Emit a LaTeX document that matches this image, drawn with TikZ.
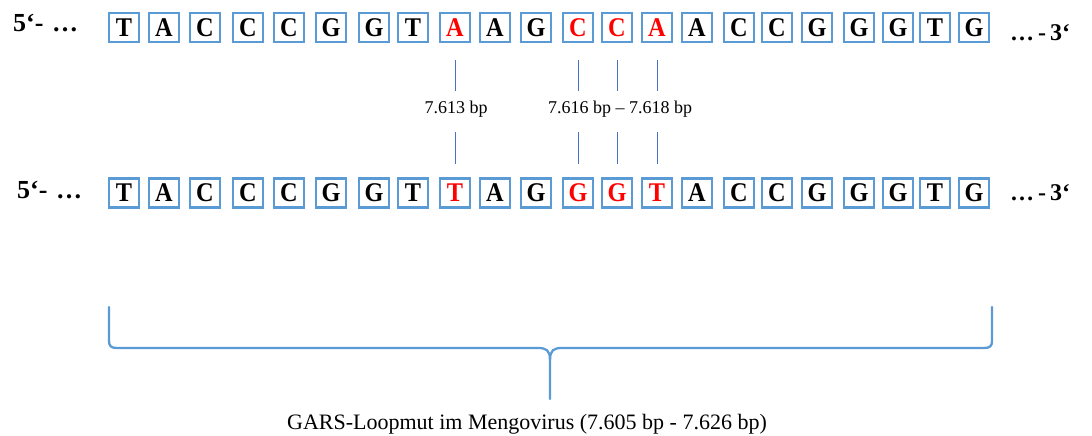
\documentclass[tikz,border=0pt]{standalone}
\usepackage{fontspec}
\setmainfont{Liberation Serif}
\definecolor{boxblue}{RGB}{91,155,213}
\definecolor{tickblue}{RGB}{68,114,196}
\definecolor{mutred}{RGB}{255,0,0}
\begin{document}
\begin{tikzpicture}[x=1pt,y=-1pt,
  base/.style={draw=boxblue,line width=2.3pt,minimum width=30pt,minimum height=29pt,inner sep=0pt},
  endlabel/.style={font=\fontsize{26}{26}\selectfont\bfseries,inner sep=0pt},
  poslabel/.style={font=\fontsize{18}{18}\selectfont,inner sep=0pt,anchor=base},
  tick/.style={draw=tickblue,line width=0.8pt},
  brace/.style={draw=boxblue,line width=2.3pt,line cap=round,line join=round}]
\useasboundingbox (0,0) rectangle (1092,436);
\newcommand{\basetxt}[2]{\textcolor{#2}{\fontsize{27}{27}\selectfont\bfseries\scalebox{0.9}[1]{#1}}}
% top strand
\node[endlabel,anchor=base west] (l5a) at (13,32) {5‘-\,\,…};
\node[endlabel,anchor=base west,font=\fontsize{24}{24}\selectfont\bfseries] (l3a) at (1010,41) {…\,-\,3‘};
\foreach \x/\l/\c [count=\i] in {124/T/black,164/A/black,205/C/black,248/C/black,289/C/black,331/G/black,374/G/black,413/T/black,455/A/mutred,495/A/black,536/G/black,578/C/mutred,617/C/mutred,657/A/mutred,697/A/black,739/C/black,777/C/black,817/G/black,859/G/black,898/G/black,935/T/black,974/G/black}
  \node[base] (t\i) at (\x,27.5) {\basetxt{\l}{\c}};
% bottom strand
\node[endlabel,anchor=base west] (l5b) at (17,198) {5‘-\,\,…};
\node[endlabel,anchor=base west,font=\fontsize{24}{24}\selectfont\bfseries] (l3b) at (1010,200) {…\,-\,3‘};
\foreach \x/\l/\c [count=\i] in {124/T/black,164/A/black,205/C/black,248/C/black,289/C/black,331/G/black,374/G/black,413/T/black,455/T/mutred,495/A/black,536/G/black,578/G/mutred,617/G/mutred,657/T/mutred,697/A/black,739/C/black,777/C/black,817/G/black,859/G/black,898/G/black,935/T/black,974/G/black}
  \node[base] (b\i) at (\x,193) {\basetxt{\l}{\c}};
% position ticks
\foreach \i in {9,12,13,14}{
  \draw[tick] ([yshift=-17pt]t\i.south) -- ([yshift=-48pt]t\i.south);
  \draw[tick] ([yshift=45.5pt]b\i.north) -- ([yshift=13.5pt]b\i.north);
}
\node[poslabel] (p1) at (456,113) {7.613 bp};
\node[poslabel] (p2) at (620,113) {7.616 bp – 7.618 bp};
% brace
\coordinate (bl) at (109,307);
\coordinate (br) at (992,307);
\coordinate (bt) at (550,399);
\draw[brace] (bl) -- (109,341) .. controls (109,346) and (111,348) .. (117,348)
  -- (538,348) .. controls (546,348) and (550,350) .. (550,360) -- (bt);
\draw[brace] (br) -- (992,341) .. controls (992,346) and (990,348) .. (984,348)
  -- (562,348) .. controls (554,348) and (550,350) .. (550,360);
\node[font=\fontsize{22}{22}\selectfont,inner sep=0pt,anchor=base] (cap) at (527,429) {GARS-Loopmut im Mengovirus (7.605 bp - 7.626 bp)};
\end{tikzpicture}
\end{document}
